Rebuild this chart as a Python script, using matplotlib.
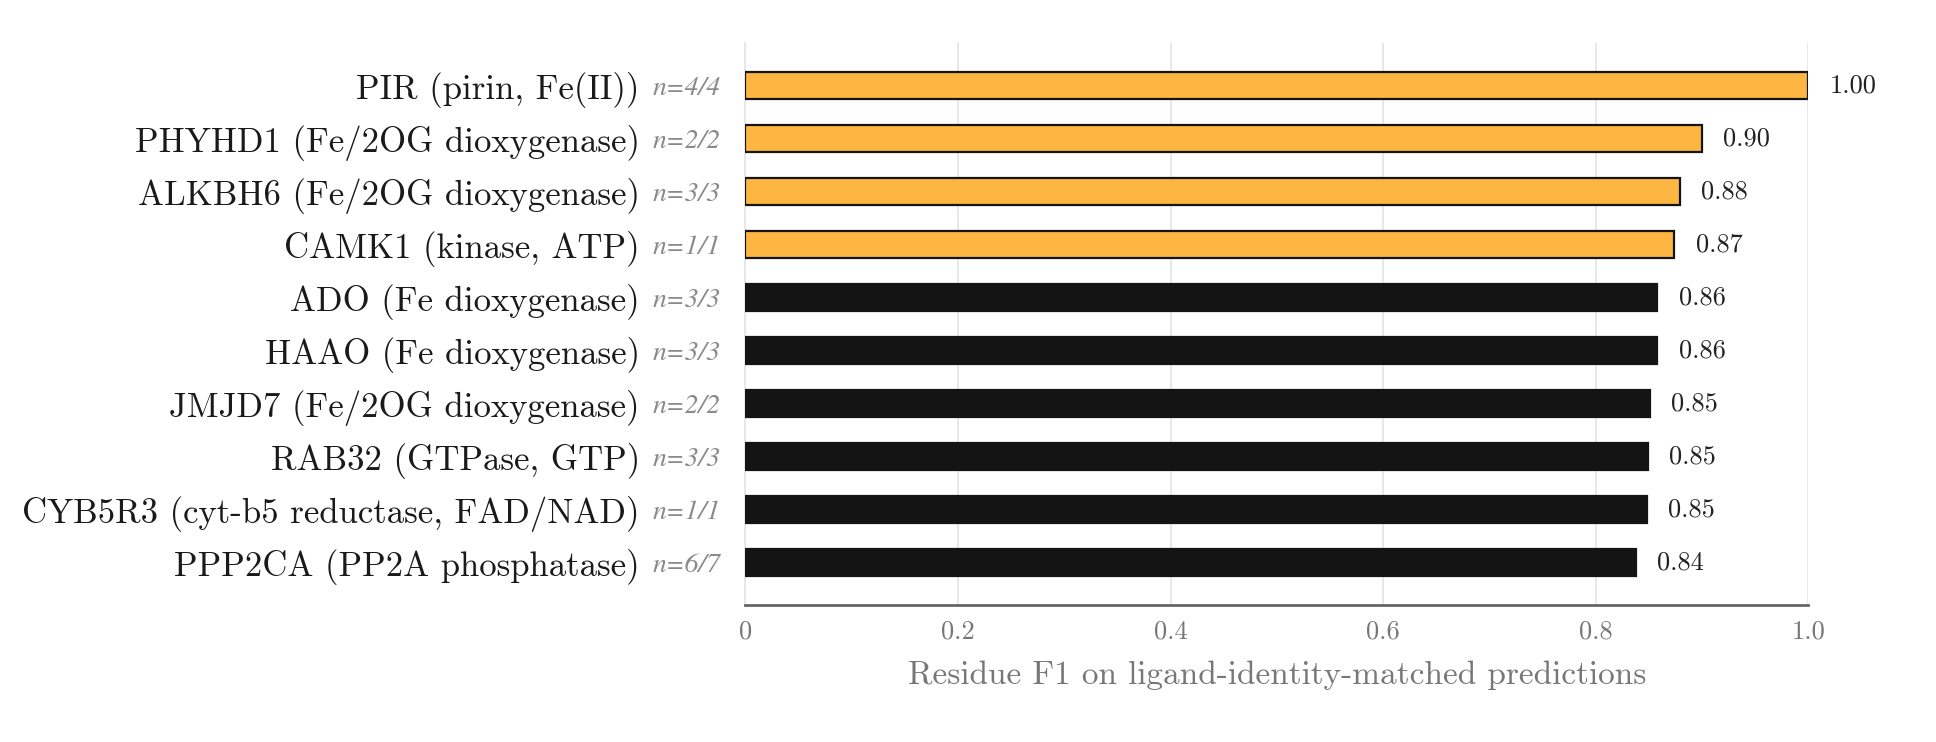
import matplotlib
matplotlib.use("Agg")
import matplotlib.pyplot as plt

plt.rcParams["font.family"] = ["cmr10", "DejaVu Serif"]
plt.rcParams["mathtext.fontset"] = "cm"
plt.rcParams["axes.formatter.use_mathtext"] = True

# Data (top to bottom)
names = [
    "PIR (pirin, Fe(II))",
    "PHYHD1 (Fe/2OG dioxygenase)",
    "ALKBH6 (Fe/2OG dioxygenase)",
    "CAMK1 (kinase, ATP)",
    "ADO (Fe dioxygenase)",
    "HAAO (Fe dioxygenase)",
    "JMJD7 (Fe/2OG dioxygenase)",
    "RAB32 (GTPase, GTP)",
    "CYB5R3 (cyt-b5 reductase, FAD/NAD)",
    "PPP2CA (PP2A phosphatase)",
]
counts = ["4/4", "2/2", "3/3", "1/1", "3/3", "3/3", "2/2", "3/3", "1/1", "6/7"]
f1 = [1.000, 0.900, 0.879, 0.874, 0.858, 0.858, 0.851, 0.849, 0.848, 0.838]
highlight = [True, True, True, True, False, False, False, False, False, False]
xticks = [0, 0.2, 0.4, 0.6, 0.8, 1.0]
xticklabels = ["0", "0.2", "0.4", "0.6", "0.8", "1.0"]

fig = plt.figure(figsize=(9.68, 3.71), dpi=200)
ax = fig.add_axes([0.385, 0.185, 0.549, 0.757])

ypos = list(range(len(names)))
colors = ["#fdb642" if h else "#141414" for h in highlight]
ax.barh(ypos, f1, height=0.5, color=colors, edgecolor="#141414", linewidth=0.8, zorder=3)

for y, v in zip(ypos, f1):
    ax.text(v + 0.02, y, f"{v:.2f}", ha="left", va="center", fontsize=9.5, color="#222222")

for y, c in zip(ypos, counts):
    ax.annotate("n=" + c, xy=(0, y), xycoords=("axes fraction", "data"),
                xytext=(-9, 0), textcoords="offset points", ha="right", va="center_baseline",
                fontsize=10, color="#8a8a8a", family="STIXGeneral", style="italic")

ax.set_yticks(ypos)
ax.set_yticklabels(names, fontsize=12.5, color="#1a1a1a")
ax.tick_params(axis="y", length=0, pad=38)
ax.set_ylim(len(names) - 0.2, -0.8)

ax.set_xlim(0, 1.0)
ax.set_xticks(xticks)
ax.set_xticklabels(xticklabels, fontsize=9.5, color="#777777")
ax.tick_params(axis="x", length=0, pad=5.5)
ax.set_xlabel("Residue F1 on ligand-identity-matched predictions", fontsize=12, color="#777777", labelpad=6)

ax.grid(axis="x", color="#e8e8e8", linewidth=0.7, zorder=0)
for s in ["top", "right"]:
    ax.spines[s].set_visible(False)
ax.spines["left"].set_color("#e8e8e8")
ax.spines["left"].set_linewidth(0.7)
ax.spines["bottom"].set_color("#666666")
ax.spines["bottom"].set_linewidth(1.0)

fig.savefig("out.png", dpi=200, facecolor="white")
